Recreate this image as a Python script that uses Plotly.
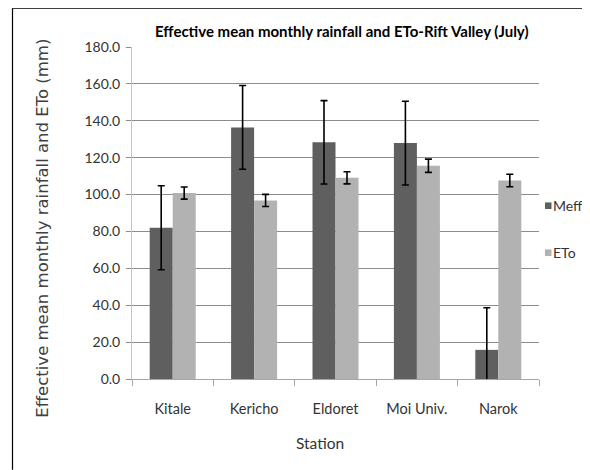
import plotly.graph_objects as go

stations = ["Kitale", "Kericho", "Eldoret", "Moi Univ.", "Narok"]
meff = [82.0, 136.4, 128.3, 127.9, 15.8]
meff_err = [22.8, 22.7, 22.6, 22.7, 22.8]
eto = [100.8, 96.8, 109.1, 115.6, 107.6]
eto_err = [3.3, 3.3, 3.3, 3.6, 3.4]
series_names = ["Meff", "ETo"]
y_ticks = [0, 20, 40, 60, 80, 100, 120, 140, 160, 180]

C_MEFF = "#5f5f5f"
C_ETO = "#b2b2b2"
FONT = "Lato, Liberation Sans, sans-serif"

# The page body has an 8px default margin; the figure fills the rest of the window.
OFF = 8
W, H = 590 - OFF, 470 - OFF
# plot area in screen pixels
X0, X1, Y0, Y1 = 132, 539, 47.3, 379.3
L, R, T, B = X0 - OFF, 590 - X1, Y0 - OFF, 470 - Y1


def px(x):
    return (x - X0) / (X1 - X0)


def py(y):
    return (Y1 - y) / (Y1 - Y0)


fig = go.Figure()
fig.add_trace(go.Bar(
    x=stations, y=meff, name=series_names[0], marker_color=C_MEFF,
    marker_line_width=0,
    error_y=dict(type="data", array=meff_err, color="#000000", thickness=1.6, width=3.5),
    showlegend=False,
))
fig.add_trace(go.Bar(
    x=stations, y=eto, name=series_names[1], marker_color=C_ETO,
    marker_line_width=0,
    error_y=dict(type="data", array=eto_err, color="#000000", thickness=1.6, width=3.5),
    showlegend=False,
))

fig.update_layout(
    width=W, height=H,
    margin=dict(l=L, r=R, t=T, b=B, pad=0),
    paper_bgcolor="white", plot_bgcolor="white",
    barmode="group", bargap=0.435, bargroupgap=0,
    font=dict(family=FONT, size=14, color="#333333"),
)
fig.update_xaxes(
    type="category", showgrid=False,
    showline=True, linecolor="#a6a6a6", linewidth=1,
    ticks="outside", tickson="boundaries", ticklen=6, tickcolor="#a6a6a6",
    tickfont=dict(family=FONT, size=14.5, color="#333333"),
    ticklabelstandoff=17,
)
fig.update_yaxes(
    range=[0, 180], tickvals=y_ticks, tickformat=".1f",
    showgrid=True, gridcolor="#8c8c8c", gridwidth=1, zeroline=False,
    showline=True, linecolor="#c4c4c4", linewidth=1,
    ticks="outside", ticklen=5, tickcolor="#8c8c8c",
    tickfont=dict(family=FONT, size=14, color="#333333"),
    ticklabelstandoff=3,
)

annotations = [
    dict(text="<b>Effective mean monthly rainfall and ETo-Rift Valley (July)</b>",
         x=px(342), y=py(31), xref="paper", yref="paper", showarrow=False,
         xanchor="center", yanchor="middle",
         font=dict(family=FONT, size=15, color="#000000")),
    dict(text="Effective mean monthly rainfall and ETo (mm)",
         x=px(43), y=py(229), xref="paper", yref="paper", showarrow=False,
         textangle=-90, xanchor="center", yanchor="middle",
         font=dict(family="DejaVu Sans", size=16.5, color="#404040")),
    dict(text="Station",
         x=px(320), y=py(443), xref="paper", yref="paper", showarrow=False,
         xanchor="center", yanchor="middle",
         font=dict(family=FONT, size=15.5, color="#333333")),
]
# legend (text + key squares)
legend_y = [206, 253]
legend_colors = [C_MEFF, C_ETO]
shapes = []
for name, col, yy in zip(series_names, legend_colors, legend_y):
    annotations.append(dict(text=name, x=px(551.5), y=py(yy), xref="paper", yref="paper",
                            showarrow=False, xanchor="left", yanchor="middle",
                            borderpad=0,
                            font=dict(family=FONT, size=14, color="#333333")))
    shapes.append(dict(type="rect", xref="paper", yref="paper",
                       x0=px(545), x1=px(551.5), y0=py(yy + 3.3), y1=py(yy - 3.3),
                       fillcolor=col, line_width=0))
# outer frame (top and left edges)
shapes.append(dict(type="line", xref="paper", yref="paper",
                   x0=px(12.5), x1=px(590), y0=py(8.5), y1=py(8.5),
                   line=dict(color="#000000", width=1.2)))
shapes.append(dict(type="line", xref="paper", yref="paper",
                   x0=px(12.5), x1=px(12.5), y0=py(8.5), y1=py(470),
                   line=dict(color="#000000", width=1.2)))

fig.update_layout(annotations=annotations, shapes=shapes)
fig.write_html("out.html")
